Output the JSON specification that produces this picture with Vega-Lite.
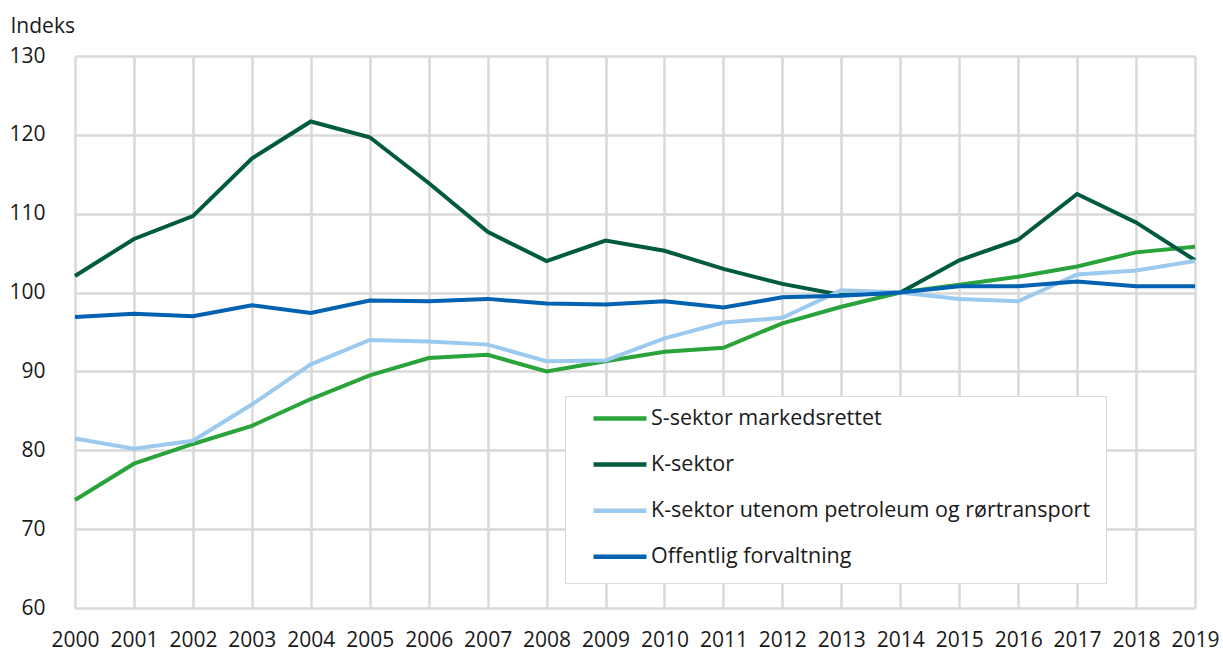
{
  "$schema": "https://vega.github.io/schema/vega-lite/v6.json",
  "width": 1120,
  "height": 552,
  "autosize": {"type": "none"},
  "padding": {"left": 75, "top": 56, "right": 28, "bottom": 43},
  "background": "white",
  "config": {
    "font": "Open Sans",
    "view": {"stroke": null},
    "axis": {"labelFont": "Open Sans", "titleFont": "Open Sans", "labelColor": "#1a1a1a", "titleColor": "#1a1a1a"}
  },
  "data": {
    "values": [
      {"year": "2000", "series": "S-sektor markedsrettet", "value": 73.7},
      {"year": "2001", "series": "S-sektor markedsrettet", "value": 78.3},
      {"year": "2002", "series": "S-sektor markedsrettet", "value": 80.8},
      {"year": "2003", "series": "S-sektor markedsrettet", "value": 83.1},
      {"year": "2004", "series": "S-sektor markedsrettet", "value": 86.5},
      {"year": "2005", "series": "S-sektor markedsrettet", "value": 89.5},
      {"year": "2006", "series": "S-sektor markedsrettet", "value": 91.7},
      {"year": "2007", "series": "S-sektor markedsrettet", "value": 92.1},
      {"year": "2008", "series": "S-sektor markedsrettet", "value": 90.0},
      {"year": "2009", "series": "S-sektor markedsrettet", "value": 91.3},
      {"year": "2010", "series": "S-sektor markedsrettet", "value": 92.5},
      {"year": "2011", "series": "S-sektor markedsrettet", "value": 93.0},
      {"year": "2012", "series": "S-sektor markedsrettet", "value": 96.1},
      {"year": "2013", "series": "S-sektor markedsrettet", "value": 98.2},
      {"year": "2014", "series": "S-sektor markedsrettet", "value": 100.0},
      {"year": "2015", "series": "S-sektor markedsrettet", "value": 101.0},
      {"year": "2016", "series": "S-sektor markedsrettet", "value": 102.0},
      {"year": "2017", "series": "S-sektor markedsrettet", "value": 103.3},
      {"year": "2018", "series": "S-sektor markedsrettet", "value": 105.1},
      {"year": "2019", "series": "S-sektor markedsrettet", "value": 105.8},
      {"year": "2000", "series": "K-sektor", "value": 102.1},
      {"year": "2001", "series": "K-sektor", "value": 106.8},
      {"year": "2002", "series": "K-sektor", "value": 109.7},
      {"year": "2003", "series": "K-sektor", "value": 117.0},
      {"year": "2004", "series": "K-sektor", "value": 121.7},
      {"year": "2005", "series": "K-sektor", "value": 119.7},
      {"year": "2006", "series": "K-sektor", "value": 113.9},
      {"year": "2007", "series": "K-sektor", "value": 107.7},
      {"year": "2008", "series": "K-sektor", "value": 104.0},
      {"year": "2009", "series": "K-sektor", "value": 106.6},
      {"year": "2010", "series": "K-sektor", "value": 105.3},
      {"year": "2011", "series": "K-sektor", "value": 103.0},
      {"year": "2012", "series": "K-sektor", "value": 101.1},
      {"year": "2013", "series": "K-sektor", "value": 99.7},
      {"year": "2014", "series": "K-sektor", "value": 100.0},
      {"year": "2015", "series": "K-sektor", "value": 104.1},
      {"year": "2016", "series": "K-sektor", "value": 106.7},
      {"year": "2017", "series": "K-sektor", "value": 112.5},
      {"year": "2018", "series": "K-sektor", "value": 108.9},
      {"year": "2019", "series": "K-sektor", "value": 104.1},
      {"year": "2000", "series": "K-sektor utenom petroleum og rørtransport", "value": 81.5},
      {"year": "2001", "series": "K-sektor utenom petroleum og rørtransport", "value": 80.2},
      {"year": "2002", "series": "K-sektor utenom petroleum og rørtransport", "value": 81.2},
      {"year": "2003", "series": "K-sektor utenom petroleum og rørtransport", "value": 85.8},
      {"year": "2004", "series": "K-sektor utenom petroleum og rørtransport", "value": 90.9},
      {"year": "2005", "series": "K-sektor utenom petroleum og rørtransport", "value": 94.0},
      {"year": "2006", "series": "K-sektor utenom petroleum og rørtransport", "value": 93.8},
      {"year": "2007", "series": "K-sektor utenom petroleum og rørtransport", "value": 93.4},
      {"year": "2008", "series": "K-sektor utenom petroleum og rørtransport", "value": 91.3},
      {"year": "2009", "series": "K-sektor utenom petroleum og rørtransport", "value": 91.4},
      {"year": "2010", "series": "K-sektor utenom petroleum og rørtransport", "value": 94.2},
      {"year": "2011", "series": "K-sektor utenom petroleum og rørtransport", "value": 96.2},
      {"year": "2012", "series": "K-sektor utenom petroleum og rørtransport", "value": 96.8},
      {"year": "2013", "series": "K-sektor utenom petroleum og rørtransport", "value": 100.3},
      {"year": "2014", "series": "K-sektor utenom petroleum og rørtransport", "value": 100.0},
      {"year": "2015", "series": "K-sektor utenom petroleum og rørtransport", "value": 99.2},
      {"year": "2016", "series": "K-sektor utenom petroleum og rørtransport", "value": 98.9},
      {"year": "2017", "series": "K-sektor utenom petroleum og rørtransport", "value": 102.3},
      {"year": "2018", "series": "K-sektor utenom petroleum og rørtransport", "value": 102.8},
      {"year": "2019", "series": "K-sektor utenom petroleum og rørtransport", "value": 104.0},
      {"year": "2000", "series": "Offentlig forvaltning", "value": 96.9},
      {"year": "2001", "series": "Offentlig forvaltning", "value": 97.3},
      {"year": "2002", "series": "Offentlig forvaltning", "value": 97.0},
      {"year": "2003", "series": "Offentlig forvaltning", "value": 98.4},
      {"year": "2004", "series": "Offentlig forvaltning", "value": 97.4},
      {"year": "2005", "series": "Offentlig forvaltning", "value": 99.0},
      {"year": "2006", "series": "Offentlig forvaltning", "value": 98.9},
      {"year": "2007", "series": "Offentlig forvaltning", "value": 99.2},
      {"year": "2008", "series": "Offentlig forvaltning", "value": 98.6},
      {"year": "2009", "series": "Offentlig forvaltning", "value": 98.5},
      {"year": "2010", "series": "Offentlig forvaltning", "value": 98.9},
      {"year": "2011", "series": "Offentlig forvaltning", "value": 98.1},
      {"year": "2012", "series": "Offentlig forvaltning", "value": 99.4},
      {"year": "2013", "series": "Offentlig forvaltning", "value": 99.6},
      {"year": "2014", "series": "Offentlig forvaltning", "value": 100.0},
      {"year": "2015", "series": "Offentlig forvaltning", "value": 100.8},
      {"year": "2016", "series": "Offentlig forvaltning", "value": 100.8},
      {"year": "2017", "series": "Offentlig forvaltning", "value": 101.4},
      {"year": "2018", "series": "Offentlig forvaltning", "value": 100.8},
      {"year": "2019", "series": "Offentlig forvaltning", "value": 100.8}
    ]
  },
  "mark": {"type": "line", "strokeWidth": 4, "strokeJoin": "miter", "strokeCap": "butt"},
  "encoding": {
    "x": {
      "field": "year",
      "type": "ordinal",
      "scale": {"type": "point", "padding": 0},
      "axis": {
        "title": null,
        "labelAngle": 0,
        "labelFontSize": 21,
        "labelBaseline": "alphabetic",
        "labelPadding": 38,
        "ticks": false,
        "tickSize": 0,
        "domain": false,
        "grid": true,
        "gridColor": "#d9d9d9",
        "gridWidth": 2.5,
        "labelOverlap": false
      }
    },
    "y": {
      "field": "value",
      "type": "quantitative",
      "scale": {"domain": [60, 130], "nice": false, "zero": false},
      "axis": {
        "values": [60, 70, 80, 90, 100, 110, 120, 130],
        "title": "Indeks",
        "titleAngle": 0,
        "titleAlign": "left",
        "titleBaseline": "alphabetic",
        "titleX": -65,
        "titleY": -24,
        "titleFontSize": 21,
        "titleFontWeight": "normal",
        "labelFontSize": 21,
        "labelPadding": 30,
        "ticks": false,
        "tickSize": 0,
        "domain": false,
        "grid": true,
        "gridColor": "#d9d9d9",
        "gridWidth": 2.5
      }
    },
    "color": {
      "field": "series",
      "type": "nominal",
      "sort": null,
      "scale": {
        "domain": ["S-sektor markedsrettet", "K-sektor", "K-sektor utenom petroleum og rørtransport", "Offentlig forvaltning"],
        "range": ["#2aa33a", "#005a40", "#9ccaee", "#0062b1"]
      },
      "legend": {
        "title": null,
        "orient": "none",
        "legendX": 490,
        "legendY": 340,
        "symbolType": "stroke",
        "symbolSize": 2800,
        "symbolStrokeWidth": 4.5,
        "symbolOffset": 11,
        "clipHeight": 15,
        "labelFontSize": 21.5,
        "labelFont": "Open Sans",
        "labelColor": "#1a1a1a",
        "labelOffset": 2,
        "rowPadding": 24.1,
        "padding": 15,
        "strokeColor": "#d9d9d9",
        "fillColor": "white",
        "labelLimit": 600
      }
    }
  }
}
